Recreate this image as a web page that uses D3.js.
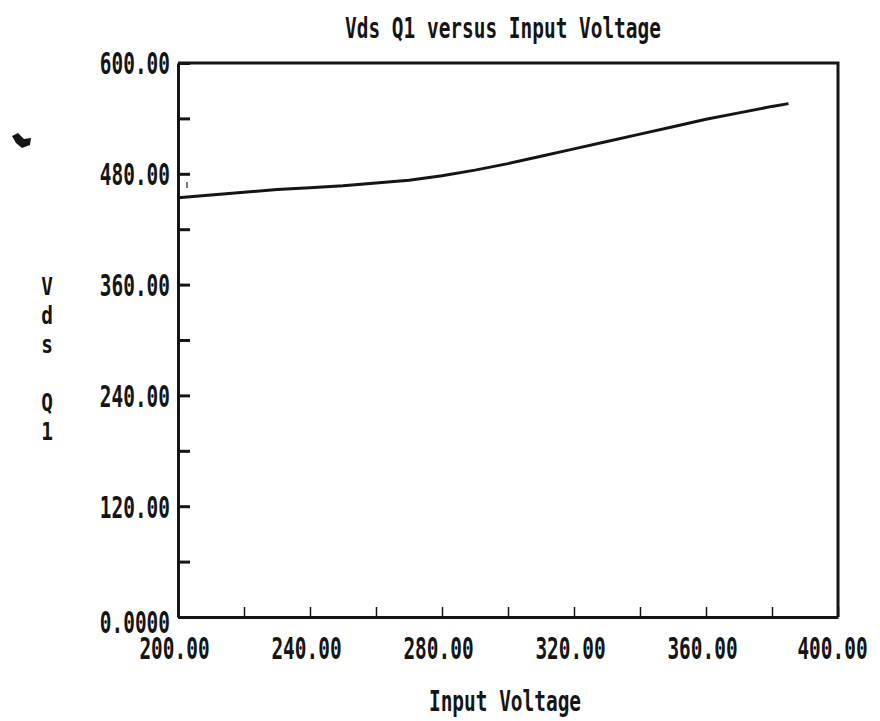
<!DOCTYPE html>
<html>
<head>
<meta charset="utf-8">
<script src="https://cdn.jsdelivr.net/npm/d3@7"></script>
<style>
    body { margin: 0; background: #fff; }
    #chart { width: 880px; height: 721px; }
    text { font-family: "DejaVu Sans Mono", monospace; font-weight: bold; fill: #151515; }
</style>
</head>
<body>
<div id="chart"></div>
<script>

// data
let inputVoltage = [200, 210, 220, 230, 240, 250, 260, 270, 280, 290, 300, 310, 320, 330, 340, 350, 360, 370, 380, 385];
let vdsQ1 = [454, 457, 460, 463, 465, 467, 470, 473, 478, 484, 491, 499, 507, 515, 523, 531, 539, 546, 553, 556];

// axis ticks
let xTicks = [200, 220, 240, 260, 280, 300, 320, 340, 360, 380, 400];
let xTickLabels = {200: "200.00", 240: "240.00", 280: "280.00", 320: "320.00", 360: "360.00", 400: "400.00"};
let yTicks = [0, 60, 120, 180, 240, 300, 360, 420, 480, 540, 600];
let yTickLabels = {0: "0.0000", 120: "120.00", 240: "240.00", 360: "360.00", 480: "480.00", 600: "600.00"};

let titleText = "Vds Q1 versus Input Voltage";
let xLabelText = "Input Voltage";
let yLabelText = "Vds Q1";


class VdsChart {

    constructor(parentElement) {
        this.parentElement = parentElement;
        this.initVis();
    }

    initVis() {
        let vis = this;
        vis.margin = {top: 63, right: 42, bottom: 104, left: 178};
        vis.width = 880 - vis.margin.left - vis.margin.right;
        vis.height = 721 - vis.margin.top - vis.margin.bottom;
        vis.charW = 11.7;

        vis.root = d3.select("#" + vis.parentElement).append("svg")
            .attr("width", 880)
            .attr("height", 721);

        vis.svg = vis.root.append("g")
            .attr("transform", "translate(" + vis.margin.left + "," + vis.margin.top + ")");

        vis.x = d3.scaleLinear().domain([200, 400]).range([0, vis.width]);
        vis.y = d3.scaleLinear().domain([0, 600]).range([vis.height, 0]);

        vis.updateVis();
    }

    // squeeze the mono font sideways to the narrow plotter lettering
    squeeze(sel) {
        let vis = this;
        sel.each(function () {
            let t = d3.select(this);
            let fs = +t.attr("font-size");
            let sx = vis.charW / (0.602 * fs);
            let x = +t.attr("x") || 0;
            let dx = +t.attr("dx") || 0;
            t.attr("x", x / sx)
                .attr("dx", dx / sx)
                .attr("transform", "scale(" + sx + ",1)");
        });
    }

    updateVis() {
        let vis = this;

        // x axis, ticks pointing up into the plot
        let xAxis = d3.axisBottom(vis.x)
            .tickValues(xTicks)
            .tickSizeInner(-10)
            .tickSizeOuter(0)
            .tickPadding(21)
            .tickFormat(d => xTickLabels[d] || "");

        let gx = vis.svg.append("g")
            .attr("transform", "translate(0," + vis.height + ")")
            .call(xAxis);
        gx.select(".domain").attr("stroke", "#151515").attr("stroke-width", 3);
        gx.selectAll(".tick line").attr("stroke", "#151515").attr("stroke-width", 1.5);
        gx.selectAll(".tick text")
            .attr("font-size", 30)
            .attr("dx", d => d === 400 ? -6 : -4)
            .attr("fill", "#151515")
            .call(s => vis.squeeze(s));

        // y axis, ticks pointing right into the plot
        let yAxis = d3.axisLeft(vis.y)
            .tickValues(yTicks)
            .tickSizeInner(-12)
            .tickSizeOuter(0)
            .tickPadding(8)
            .tickFormat(d => yTickLabels[d] || "");

        let gy = vis.svg.append("g").call(yAxis);
        gy.select(".domain").attr("stroke", "#151515").attr("stroke-width", 3);
        gy.selectAll(".tick line").attr("stroke", "#151515").attr("stroke-width", 3);
        gy.selectAll(".tick text")
            .attr("font-size", 30)
            .attr("dy", "0.36em")
            .attr("fill", "#151515")
            .call(s => vis.squeeze(s));
        gy.selectAll(".tick").filter(d => d === 0).select("text").attr("dy", "0.5em");

        // frame: top and right sides
        vis.svg.append("path")
            .attr("d", d3.line()([[vis.x(200), vis.y(600)], [vis.x(400), vis.y(600)], [vis.x(400), vis.y(0)]]))
            .attr("fill", "none")
            .attr("stroke", "#151515")
            .attr("stroke-width", 3);

        // the curve
        let line = d3.line()
            .x((d, i) => vis.x(inputVoltage[i]))
            .y(d => vis.y(d));

        vis.svg.append("path")
            .datum(vdsQ1)
            .attr("d", line)
            .attr("fill", "none")
            .attr("stroke", "#151515")
            .attr("stroke-width", 3);

        // title
        vis.root.append("text")
            .attr("x", 503)
            .attr("y", 38)
            .attr("text-anchor", "middle")
            .attr("font-size", 28)
            .text(titleText)
            .call(s => vis.squeeze(s));

        // x axis title
        vis.root.append("text")
            .attr("x", 505)
            .attr("y", 711)
            .attr("text-anchor", "middle")
            .attr("font-size", 28)
            .text(xLabelText)
            .call(s => vis.squeeze(s));

        // y axis title, one letter per row
        vis.root.append("g")
            .selectAll("text")
            .data(yLabelText.split("").filter(c => c !== " "))
            .enter()
            .append("text")
            .attr("x", 47)
            .attr("y", (d, i) => 295 + i * 29 + (i > 2 ? 29 : 0))
            .attr("text-anchor", "middle")
            .attr("font-size", 24)
            .text(d => d)
            .call(s => vis.squeeze(s));

        // stray pen marks
        vis.root.append("path")
            .attr("d", "M12,136 L18,133 L24,139 L31,138 L30,145 L22,148 L16,143 Z")
            .attr("fill", "#151515");
        vis.root.append("rect")
            .attr("x", 186).attr("y", 182).attr("width", 2).attr("height", 6)
            .attr("fill", "#777");
    }
}

new VdsChart("chart");

</script>
</body>
</html>
